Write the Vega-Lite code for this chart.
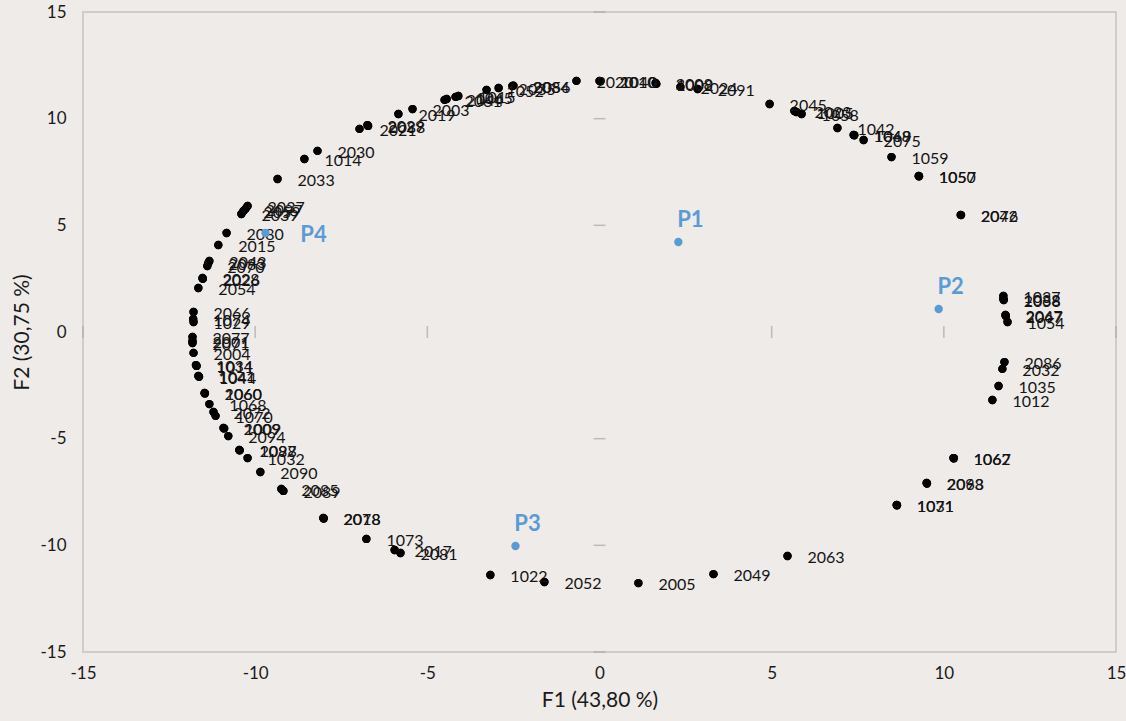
{
  "$schema": "https://vega.github.io/schema/vega-lite/v6.json",
  "width": 1033,
  "height": 640,
  "autosize": {"type": "none"},
  "padding": {"left": 83, "top": 12, "right": 10, "bottom": 69},
  "background": "#efebe9",
  "config": {"view": {"stroke": "#c4c4c4", "strokeWidth": 1.5}, "font": "Lato"},
  "datasets": {
    "samples": [
      {"id": "2033", "x": -9.35, "y": 7.17},
      {"id": "1014", "x": -8.57, "y": 8.11},
      {"id": "2030", "x": -8.19, "y": 8.49},
      {"id": "2021", "x": -6.97, "y": 9.52},
      {"id": "2029", "x": -6.74, "y": 9.70},
      {"id": "2088", "x": -6.72, "y": 9.66},
      {"id": "2019", "x": -5.84, "y": 10.22},
      {"id": "2003", "x": -5.43, "y": 10.45},
      {"id": "2061", "x": -4.50, "y": 10.88},
      {"id": "2044", "x": -4.44, "y": 10.92},
      {"id": "1065", "x": -4.18, "y": 11.02},
      {"id": "1015", "x": -4.10, "y": 11.06},
      {"id": "1052", "x": -3.28, "y": 11.35},
      {"id": "2035", "x": -2.93, "y": 11.44},
      {"id": "2084", "x": -2.53, "y": 11.53},
      {"id": "2056", "x": -2.50, "y": 11.55},
      {"id": "2020", "x": -0.67, "y": 11.77},
      {"id": "2010", "x": 0.0, "y": 11.77},
      {"id": "1040", "x": 0.03, "y": 11.75},
      {"id": "2008", "x": 1.63, "y": 11.67},
      {"id": "1002", "x": 1.65, "y": 11.63},
      {"id": "2024", "x": 2.35, "y": 11.49},
      {"id": "2091", "x": 2.85, "y": 11.39},
      {"id": "2045", "x": 4.94, "y": 10.69},
      {"id": "2023", "x": 5.66, "y": 10.36},
      {"id": "1005", "x": 5.72, "y": 10.31},
      {"id": "1058", "x": 5.87, "y": 10.22},
      {"id": "1042", "x": 6.91, "y": 9.56},
      {"id": "1048", "x": 7.38, "y": 9.24},
      {"id": "1069", "x": 7.40, "y": 9.22},
      {"id": "2075", "x": 7.67, "y": 9.00},
      {"id": "1059", "x": 8.48, "y": 8.20},
      {"id": "1050", "x": 9.27, "y": 7.31},
      {"id": "1057", "x": 9.28, "y": 7.30},
      {"id": "2042", "x": 10.49, "y": 5.49},
      {"id": "2076", "x": 10.50, "y": 5.48},
      {"id": "1037", "x": 11.73, "y": 1.69},
      {"id": "1088", "x": 11.73, "y": 1.55},
      {"id": "2058", "x": 11.74, "y": 1.50},
      {"id": "2067", "x": 11.79, "y": 0.80},
      {"id": "2047", "x": 11.80, "y": 0.75},
      {"id": "1054", "x": 11.85, "y": 0.47},
      {"id": "2086", "x": 11.76, "y": -1.41},
      {"id": "2032", "x": 11.70, "y": -1.73},
      {"id": "1035", "x": 11.59, "y": -2.53},
      {"id": "1012", "x": 11.41, "y": -3.19},
      {"id": "1062", "x": 10.28, "y": -5.91},
      {"id": "1067", "x": 10.29, "y": -5.92},
      {"id": "2093", "x": 9.50, "y": -7.08},
      {"id": "2068", "x": 9.51, "y": -7.10},
      {"id": "1071", "x": 8.63, "y": -8.11},
      {"id": "1031", "x": 8.64, "y": -8.12},
      {"id": "2063", "x": 5.46, "y": -10.50},
      {"id": "2049", "x": 3.31, "y": -11.35},
      {"id": "2005", "x": 1.13, "y": -11.77},
      {"id": "2052", "x": -1.60, "y": -11.72},
      {"id": "1022", "x": -3.17, "y": -11.39},
      {"id": "2081", "x": -5.78, "y": -10.36},
      {"id": "2017", "x": -5.95, "y": -10.22},
      {"id": "1073", "x": -6.77, "y": -9.70},
      {"id": "2078", "x": -8.02, "y": -8.72},
      {"id": "2018", "x": -8.01, "y": -8.74},
      {"id": "2085", "x": -9.24, "y": -7.36},
      {"id": "2089", "x": -9.18, "y": -7.45},
      {"id": "2090", "x": -9.85, "y": -6.56},
      {"id": "1032", "x": -10.22, "y": -5.91},
      {"id": "1087", "x": -10.46, "y": -5.53},
      {"id": "2098", "x": -10.45, "y": -5.55},
      {"id": "2094", "x": -10.78, "y": -4.88},
      {"id": "2009", "x": -10.92, "y": -4.50},
      {"id": "1009", "x": -10.90, "y": -4.52},
      {"id": "2072", "x": -11.21, "y": -3.75},
      {"id": "1070", "x": -11.15, "y": -3.93},
      {"id": "1068", "x": -11.33, "y": -3.38},
      {"id": "2060", "x": -11.47, "y": -2.86},
      {"id": "1060", "x": -11.46, "y": -2.88},
      {"id": "1041", "x": -11.65, "y": -2.06},
      {"id": "1044", "x": -11.63, "y": -2.10},
      {"id": "1011", "x": -11.70, "y": -1.59},
      {"id": "1034", "x": -11.72, "y": -1.55},
      {"id": "2004", "x": -11.79, "y": -0.98},
      {"id": "2071", "x": -11.82, "y": -0.52},
      {"id": "2001", "x": -11.82, "y": -0.42},
      {"id": "2077", "x": -11.82, "y": -0.23},
      {"id": "1029", "x": -11.79, "y": 0.47},
      {"id": "1074", "x": -11.80, "y": 0.61},
      {"id": "2066", "x": -11.79, "y": 0.94},
      {"id": "2054", "x": -11.65, "y": 2.06},
      {"id": "2028", "x": -11.53, "y": 2.53},
      {"id": "2026", "x": -11.52, "y": 2.49},
      {"id": "2070", "x": -11.39, "y": 3.09},
      {"id": "2083", "x": -11.36, "y": 3.23},
      {"id": "2043", "x": -11.33, "y": 3.33},
      {"id": "2015", "x": -11.07, "y": 4.08},
      {"id": "2080", "x": -10.83, "y": 4.64},
      {"id": "2039", "x": -10.40, "y": 5.53},
      {"id": "2059", "x": -10.34, "y": 5.67},
      {"id": "2097", "x": -10.28, "y": 5.77},
      {"id": "2037", "x": -10.22, "y": 5.91}
    ],
    "products": [
      {"id": "P1", "x": 2.29, "y": 4.22},
      {"id": "P2", "x": 9.85, "y": 1.08},
      {"id": "P3", "x": -2.44, "y": -10.03},
      {"id": "P4", "x": -9.70, "y": 4.64}
    ],
    "ticks": [
      {"v": -15}, {"v": -10}, {"v": -5}, {"v": 5}, {"v": 10}, {"v": 15}
    ]
  },
  "layer": [
    {
      "data": {"name": "samples"},
      "mark": {"type": "circle", "size": 70, "color": "#000000", "opacity": 1},
      "encoding": {
        "x": {
          "field": "x", "type": "quantitative",
          "scale": {"domain": [-15, 15], "nice": false, "zero": false},
          "axis": {
            "values": [-15, -10, -5, 0, 5, 10, 15], "grid": false, "ticks": false, "domain": false,
            "labelFlush": false, "labelOverlap": false, "labelExpr": "'' + datum.value",
            "labelFontSize": 17, "labelColor": "#1a1a1a", "labelPadding": 13,
            "title": "F1 (43,80 %)", "titleFontSize": 21, "titleFontWeight": "normal",
            "titleColor": "#1a1a1a", "titlePadding": 8
          }
        },
        "y": {
          "field": "y", "type": "quantitative",
          "scale": {"domain": [-15, 15], "nice": false, "zero": false},
          "axis": {
            "values": [-15, -10, -5, 0, 5, 10, 15], "grid": false, "ticks": false, "domain": false,
            "labelFlush": false, "labelOverlap": false, "labelExpr": "'' + datum.value",
            "labelFontSize": 17, "labelColor": "#1a1a1a", "labelPadding": 17,
            "title": "F2 (30,75 %)", "titleFontSize": 21, "titleFontWeight": "normal",
            "titleColor": "#1a1a1a", "titlePadding": 7
          }
        }
      }
    },
    {
      "mark": {"type": "rule", "color": "#a6a6a6", "strokeWidth": 1.5},
      "encoding": {"x": {"datum": 0, "type": "quantitative"}}
    },
    {
      "mark": {"type": "rule", "color": "#a6a6a6", "strokeWidth": 1.5},
      "encoding": {"y": {"datum": 0, "type": "quantitative"}}
    },
    {
      "data": {"name": "ticks"},
      "mark": {"type": "tick", "orient": "horizontal", "color": "#a6a6a6", "size": 12, "thickness": 1.5},
      "encoding": {"x": {"datum": 0, "type": "quantitative"}, "y": {"field": "v", "type": "quantitative"}}
    },
    {
      "data": {"name": "ticks"},
      "mark": {"type": "tick", "orient": "vertical", "color": "#a6a6a6", "size": 12, "thickness": 1.5},
      "encoding": {"y": {"datum": 0, "type": "quantitative"}, "x": {"field": "v", "type": "quantitative"}}
    },
    {
      "data": {"name": "samples"},
      "mark": {"type": "circle", "size": 70, "color": "#000000", "opacity": 1},
      "encoding": {"x": {"field": "x", "type": "quantitative"}, "y": {"field": "y", "type": "quantitative"}}
    },
    {
      "data": {"name": "samples"},
      "mark": {"type": "text", "align": "left", "baseline": "middle", "dx": 20, "dy": 2, "fontSize": 16, "color": "#141414"},
      "encoding": {"x": {"field": "x", "type": "quantitative"}, "y": {"field": "y", "type": "quantitative"}, "text": {"field": "id"}}
    },
    {
      "data": {"name": "products"},
      "mark": {"type": "circle", "size": 70, "color": "#5b9bd5", "opacity": 1},
      "encoding": {"x": {"field": "x", "type": "quantitative"}, "y": {"field": "y", "type": "quantitative"}}
    },
    {
      "data": {"name": "products"},
      "transform": [{"filter": "datum.id !== 'P4'"}],
      "mark": {"type": "text", "align": "center", "baseline": "middle", "dx": 12, "dy": -22, "fontSize": 22, "fontWeight": "bold", "color": "#5b9bd5"},
      "encoding": {"x": {"field": "x", "type": "quantitative"}, "y": {"field": "y", "type": "quantitative"}, "text": {"field": "id"}}
    },
    {
      "data": {"name": "products"},
      "transform": [{"filter": "datum.id === 'P4'"}],
      "mark": {"type": "text", "align": "center", "baseline": "middle", "dx": 48, "dy": 2, "fontSize": 22, "fontWeight": "bold", "color": "#5b9bd5"},
      "encoding": {"x": {"field": "x", "type": "quantitative"}, "y": {"field": "y", "type": "quantitative"}, "text": {"field": "id"}}
    }
  ]
}
